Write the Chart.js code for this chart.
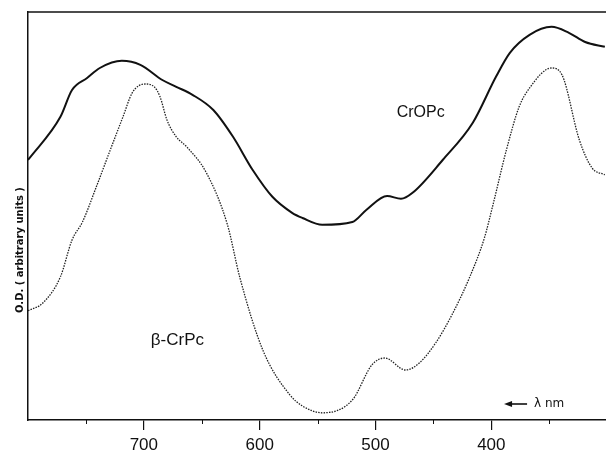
<!DOCTYPE html>
<html>
<head>
<meta charset="utf-8">
<title>CrOPc / β-CrPc spectra</title>
<script src="https://cdn.jsdelivr.net/npm/chart.js@4/dist/chart.umd.min.js"></script>
<style>
    body { margin: 0; background: #fff; }
    #chart { display: block; }
</style>
</head>
<body>
<canvas id="chart" width="606" height="456"></canvas>
<script>
// Data (x = wavelength in nm, y = O.D., arbitrary units)
const crOPcNm = [800, 772, 762, 749, 738, 719, 703, 684, 672, 658, 640, 623, 606, 589, 572, 563, 546, 520, 508, 490, 478, 468, 442, 416, 396, 384, 367, 348, 333, 319, 302];
const crOPcOd = [65, 75.8, 82.5, 85.5, 88, 89.8, 88.8, 85, 83.3, 81.3, 77.5, 70.8, 62.5, 55.8, 51.8, 50.5, 48.8, 49.5, 52.5, 56, 55.3, 56.8, 65, 74.3, 85.8, 91.8, 96.3, 98.3, 96.8, 94.5, 93.3];

const betaNm = [800, 787, 772, 762, 753, 741, 729, 718, 710, 699, 691, 686, 680, 672, 663, 646, 628, 617, 597, 574, 563, 546, 520, 503, 492, 474, 462, 448, 434, 419, 406, 399, 387, 376, 367, 348, 339, 324, 313, 302];
const betaOd = [27.3, 29.3, 35.8, 45, 49.5, 58.3, 67.5, 75.8, 81.8, 84, 83.3, 80.8, 75, 70.8, 68.3, 61.8, 49, 35.5, 17.3, 6.3, 3.5, 1.8, 5, 13.8, 15.5, 12.5, 14.3, 19.3, 26.3, 35.5, 45.5, 53.3, 67.5, 78.3, 83, 88, 86.3, 70, 63, 61.3];

const majorTicks = [700, 600, 500, 400];
const minorTicks = [750, 650, 550, 450, 350];

// Curve labels, placed in data coordinates
const curveLabels = [
    { text: 'CrOPc', nm: 461, od: 76.8, size: 16 },
    { text: 'β-CrPc', nm: 671, od: 19.8, size: 17 }
];
const axisNote = { text: 'λ nm', nm: 389, od: 4 };
const yTitle = { text: 'O.D. ( arbitrary units )', od: 42.5 };

function toPoints(xs, ys) {
    return xs.map((x, i) => ({ x: x, y: ys[i] }));
}

// Top frame line, minor ticks, y title, text labels and the wavelength arrow
const decorations = {
    id: 'decorations',
    afterDraw(chart) {
        const ctx = chart.ctx;
        const area = chart.chartArea;
        const xs = chart.scales.x;
        const ys = chart.scales.y;

        ctx.save();
        ctx.strokeStyle = '#111';
        ctx.lineWidth = 1.5;
        ctx.beginPath();
        ctx.moveTo(area.left, area.top);
        ctx.lineTo(chart.width, area.top);
        ctx.stroke();

        ctx.lineWidth = 1;
        minorTicks.forEach(v => {
            const px = Math.round(xs.getPixelForValue(v)) + 0.5;
            ctx.beginPath();
            ctx.moveTo(px, area.bottom);
            ctx.lineTo(px, area.bottom + 4);
            ctx.stroke();
        });

        ctx.fillStyle = '#111';
        ctx.textAlign = 'center';
        ctx.textBaseline = 'middle';

        // rotated axis title, sitting a bit below the axis middle as in the original
        ctx.save();
        ctx.translate(area.left - 8, ys.getPixelForValue(yTitle.od));
        ctx.rotate(-Math.PI / 2);
        ctx.font = 'bold 10px "DejaVu Sans", sans-serif';
        ctx.fillText(yTitle.text, 0, 0);
        ctx.restore();

        curveLabels.forEach(l => {
            ctx.font = l.size + 'px "Liberation Sans", Arial, sans-serif';
            ctx.fillText(l.text, xs.getPixelForValue(l.nm), ys.getPixelForValue(l.od));
        });

        // arrow pointing left, towards longer wavelength
        const ax = xs.getPixelForValue(axisNote.nm);
        const ay = ys.getPixelForValue(axisNote.od);
        ctx.lineWidth = 1.6;
        ctx.beginPath();
        ctx.moveTo(ax + 4, ay);
        ctx.lineTo(ax + 23, ay);
        ctx.stroke();
        ctx.beginPath();
        ctx.moveTo(ax, ay);
        ctx.lineTo(ax + 8, ay - 3);
        ctx.lineTo(ax + 8, ay + 3);
        ctx.closePath();
        ctx.fill();
        ctx.textAlign = 'left';
        ctx.font = '12px "DejaVu Sans", sans-serif';
        ctx.fillText(axisNote.text, ax + 30, ay);
        ctx.restore();
    }
};

new Chart(document.getElementById('chart'), {
    type: 'line',
    data: {
        datasets: [
            {
                label: 'CrOPc',
                data: toPoints(crOPcNm, crOPcOd),
                borderColor: '#111',
                borderWidth: 2,
                cubicInterpolationMode: 'monotone',
                pointRadius: 0
            },
            {
                label: 'β-CrPc',
                data: toPoints(betaNm, betaOd),
                borderColor: '#222',
                borderWidth: 1.3,
                borderDash: [1.5, 1.2],
                cubicInterpolationMode: 'monotone',
                pointRadius: 0
            }
        ]
    },
    options: {
        responsive: false,
        animation: false,
        layout: { padding: { top: 12, right: 0, left: 0, bottom: 0 } },
        plugins: {
            legend: { display: false },
            tooltip: { enabled: false }
        },
        scales: {
            x: {
                type: 'linear',
                reverse: true,
                min: 301,
                max: 800,
                afterBuildTicks: s => { s.ticks = majorTicks.map(v => ({ value: v })); },
                afterFit: s => { s.height = 36; },
                ticks: {
                    color: '#111',
                    padding: 5,
                    font: { family: '"Liberation Sans", Arial, sans-serif', size: 17 }
                },
                grid: {
                    display: true,
                    drawOnChartArea: false,
                    tickLength: 10,
                    color: '#111',
                    lineWidth: 1.2
                },
                border: { display: true, color: '#111', width: 1.5 }
            },
            y: {
                min: 0,
                max: 102,
                afterFit: s => { s.width = 28; },
                ticks: { display: false },
                grid: { display: false },
                border: { display: true, color: '#111', width: 1.5 }
            }
        }
    },
    plugins: [decorations]
});
</script>
</body>
</html>
